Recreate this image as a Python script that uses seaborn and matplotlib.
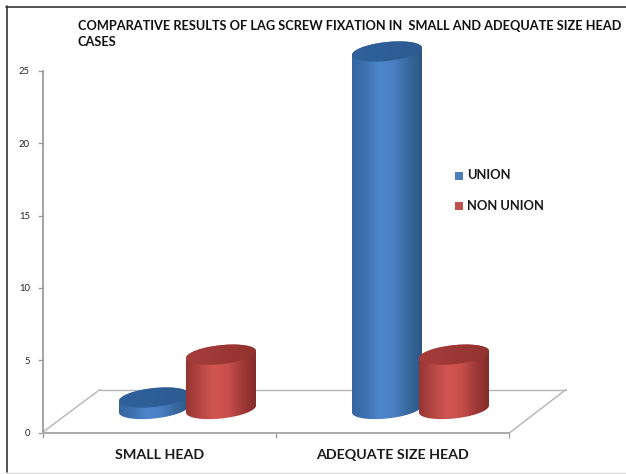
import numpy as np
import pandas as pd
import matplotlib
matplotlib.use("Agg")
import matplotlib.pyplot as plt
from matplotlib.colors import LinearSegmentedColormap
from matplotlib.lines import Line2D
from matplotlib.patches import PathPatch, Rectangle
from matplotlib.path import Path
import seaborn as sns

categories = ["SMALL HEAD", "ADEQUATE SIZE HEAD"]
series_names = ["UNION", "NON UNION"]
union_values = [0.8, 25]
non_union_values = [3.8, 3.8]
y_ticks = [0, 5, 10, 15, 20, 25]
title_text = "COMPARATIVE RESULTS OF LAG SCREW FIXATION IN  SMALL AND ADEQUATE SIZE HEAD\nCASES"

W, H = 626, 474
sns.set_theme(style="white")
plt.rcParams["font.family"] = ["Lato", "DejaVu Sans"]
fig = plt.figure(figsize=(W / 100, H / 100), dpi=100, facecolor="white")


def axes_px(x0, x1, ytop, ybot):
    return fig.add_axes([x0 / W, 1 - ybot / H, (x1 - x0) / W, (ybot - ytop) / H])


# Front plane: axes, ticks and labels
ax = axes_px(43, 509, 71, 432.5)
ax.set_xlim(-0.5, 1.5)
ax.set_ylim(0, 25)
ax.set_xticks([-0.5, 0.5, 1.5], ["", "", ""])
ax.set_xticks([0, 1], categories, minor=True, fontsize=10.3, fontweight="bold", color="#1a1a1a")
ax.set_yticks(y_ticks, [str(v) for v in y_ticks], fontsize=6.8, color="#222222")
ax.tick_params(axis="both", which="major", length=3.5, width=0.9, color="#999999", bottom=True, left=True)
ax.tick_params(axis="x", which="minor", length=0, pad=12)
ax.tick_params(axis="y", pad=6)
for side in ("top", "right"):
    ax.spines[side].set_visible(False)
ax.spines["left"].set_color("#999999")
ax.spines["bottom"].set_color("#aaaaaa")
ax.spines["bottom"].set_linewidth(1.4)
ax.patch.set_alpha(0)

# Floor in pixel coordinates, beneath the bars
floor = [(43, 432), (100, 389.5), (566, 389.5), (510, 432.5)]
for a, b in zip(floor[:-1], floor[1:]):
    fig.add_artist(Line2D([a[0] / W, b[0] / W], [1 - a[1] / H, 1 - b[1] / H],
                          color="#b4b4b4", lw=1.0, zorder=-1))

# Depth plane holding the bars, shifted back and to the right
scale_px = 14.3
y_floor = -2.0
y_ceil = 27.0
bx = axes_px(71, 537, 409 - y_ceil * scale_px, 409 - y_floor * scale_px)
df = pd.DataFrame({
    "group": categories * 2,
    "series": [series_names[0]] * 2 + [series_names[1]] * 2,
    "value": union_values + non_union_values,
})
palette = {series_names[0]: "#4a7ebb", series_names[1]: "#c0504d"}
sns.barplot(data=df, x="group", y="value", hue="series", hue_order=series_names,
            order=categories, palette=palette, width=0.575, gap=0, dodge=True,
            saturation=1, legend=False, ax=bx, zorder=2)
bx.axis("off")

ramps = {
    series_names[0]: LinearSegmentedColormap.from_list(
        "u", ["#34659f", "#3f72b2", "#4d86cc", "#4a80c4", "#386a9f", "#2d5685"]),
    series_names[1]: LinearSegmentedColormap.from_list(
        "n", ["#963432", "#b54644", "#d05553", "#c94f4d", "#a03a38", "#842c2a"]),
}
tops = {
    series_names[0]: LinearSegmentedColormap.from_list("ut", ["#30619a", "#2d5b92"]),
    series_names[1]: LinearSegmentedColormap.from_list("nt", ["#a63e3c", "#92322f"]),
}
grad = np.linspace(0, 1, 256).reshape(1, -1)
semi_h = 9.5 / scale_px
shear = 3.5 / scale_px
t_low = np.linspace(np.pi, 2 * np.pi, 80)
t_up = np.linspace(0, np.pi, 80)
bar_series = [series_names[0]] * 2 + [series_names[1]] * 2
for i, (patch, name) in enumerate(zip(bx.patches[:4], bar_series)):
    x0, w, h = patch.get_x(), patch.get_width(), patch.get_height()
    a = 35 / 233
    cx = x0 + w / 2
    zo = 3 + i
    low = np.c_[cx + a * np.cos(t_low), semi_h * np.sin(t_low) + shear * np.cos(t_low)]
    up = np.c_[cx + a * np.cos(t_up), h + semi_h * np.sin(t_up) + shear * np.cos(t_up)]
    body = Path(np.r_[low, up, low[:1]], closed=True)
    ell = Path(np.r_[np.c_[cx + a * np.cos(t_up), h + semi_h * np.sin(t_up) + shear * np.cos(t_up)],
                     np.c_[cx + a * np.cos(t_low), h + semi_h * np.sin(t_low) + shear * np.cos(t_low)]],
               closed=True)
    for path, cmap in ((body, ramps[name]), (ell, tops[name])):
        clip = PathPatch(path, transform=bx.transData, fc="none", ec="none")
        bx.add_patch(clip)
        im = bx.imshow(grad, cmap=cmap, aspect="auto", zorder=zo,
                       extent=(cx - a, cx + a, -3, h + 3), interpolation="bilinear")
        im.set_clip_path(clip)
bx.set_xlim(-0.5, 1.5)
bx.set_ylim(y_floor, y_ceil)
bx.patch.set_alpha(0)

# Legend
for y, name in zip((175.5, 206), series_names):
    fig.add_artist(Rectangle((455 / W, 1 - (y + 4) / H), 8 / W, 8 / H,
                             transform=fig.transFigure, fc=palette[name], ec="none"))
    fig.text(467 / W, 1 - (y - 0.5) / H, name, fontsize=9.4, fontweight="bold",
             color="#1a1a1a", va="center", ha="left")

# Title
fig.text(78 / W, 1 - 34 / H, title_text, fontsize=9.2, fontweight="bold",
         color="#111111", va="center", ha="left", linespacing=1.45)

# Frame
fig.add_artist(Line2D([6.5 / W, 6.5 / W], [1 - 472 / H, 1 - 6 / H], color="#333333", lw=1.2))
fig.add_artist(Line2D([6 / W, 1], [1 - 6.5 / H, 1 - 6.5 / H], color="#333333", lw=1.2))
fig.add_artist(Line2D([6.5 / W, 1], [1 - 472.5 / H, 1 - 472.5 / H], color="#d8d8d8", lw=1.0))

fig.savefig("out.png", dpi=100, facecolor="white")
